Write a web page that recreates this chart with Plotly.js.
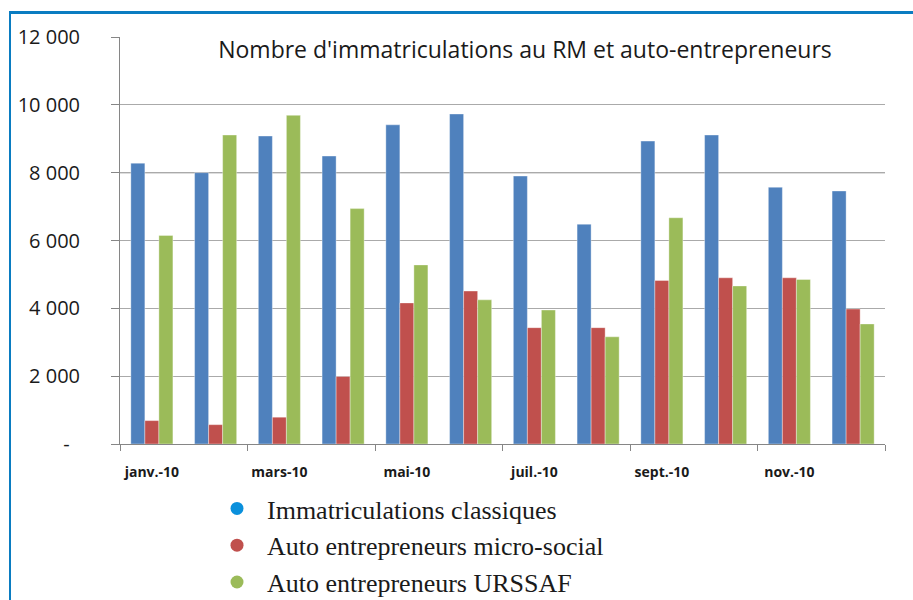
<!DOCTYPE html>
<html>
<head>
<meta charset="utf-8">
<script src="https://cdn.plot.ly/plotly-3.0.1.min.js"></script>
<style>
  html, body { margin: 0; padding: 0; background: #fff; }
  #frame { position: absolute; left: 9px; top: 11px; width: 904px; height: 589px;
           border-left: 2px solid #0a7cc1; border-top: 3px solid #0a7cc1; box-sizing: border-box; pointer-events: none; z-index: 5; }
  #chart { position: absolute; left: 0; top: 0; width: 913px; height: 600px; }
</style>
</head>
<body>
<div id="chart"></div>
<div id="frame"></div>
<script>
const months = ['janv.-10','févr.-10','mars-10','avr.-10','mai-10','juin-10','juil.-10','août-10','sept.-10','oct.-10','nov.-10','déc.-10'];
const classiques = [8280, 8000, 9080, 8490, 9410, 9730, 7900, 6480, 8930, 9110, 7570, 7460];
const microSocial = [690, 570, 790, 1990, 4160, 4510, 3430, 3430, 4820, 4900, 4900, 3980];
const urssaf = [6150, 9110, 9690, 6940, 5280, 4250, 3950, 3160, 6670, 4660, 4850, 3540];
const seriesNames = ['Immatriculations classiques', 'Auto entrepreneurs micro-social', 'Auto entrepreneurs URSSAF'];
const yTickVals = [0, 2000, 4000, 6000, 8000, 10000, 12000];
const yTickText = ['-\u00a0\u00a0', '2 000', '4 000', '6 000', '8 000', '10 000', '12 000'];
const emphasizedGrid = 8000;
const chartTitle = "Nombre d'immatriculations au RM et auto-entrepreneurs";

const barColors = ['#4f81bd', '#c0504d', '#9bbb59'];
const legendColors = ['#0a90dc', '#c0504d', '#9bbb59'];
const seriesValues = [classiques, microSocial, urssaf];

const traces = [];
seriesValues.forEach((vals, i) => {
  traces.push({
    type: 'bar', x: months, y: vals, name: seriesNames[i],
    marker: { color: barColors[i], line: { color: 'rgba(255,255,255,0.6)', width: 0.6 } },
    showlegend: false, hoverinfo: 'x+y'
  });
});
seriesValues.forEach((vals, i) => {
  traces.push({
    type: 'scatter', mode: 'markers', x: [null], y: [null], name: seriesNames[i],
    marker: { color: legendColors[i], size: 13, symbol: 'circle' },
    legendgroup: 'g' + i, showlegend: true
  });
});

const layout = {
  width: 913, height: 600,
  margin: { l: 120, r: 28, t: 37, b: 156, autoexpand: false },
  paper_bgcolor: '#ffffff', plot_bgcolor: '#ffffff',
  barmode: 'group', bargap: 0.34, bargroupgap: 0,
  title: {
    text: chartTitle,
    font: { family: 'Open Sans, sans-serif', size: 23, color: '#1a1a1a' },
    x: 525 / 913, xanchor: 'center', xref: 'container',
    y: 1 - 50 / 600, yanchor: 'middle', yref: 'container'
  },
  xaxis: {
    type: 'category', tickmode: 'linear', tick0: 0, dtick: 2,
    tickson: 'boundaries', ticks: 'outside', ticklen: 6, tickcolor: '#868686',
    showline: true, linecolor: '#868686', linewidth: 1,
    showgrid: false, zeroline: false, tickangle: 0,
    ticklabelstandoff: 15,
    tickfont: { family: 'Open Sans, sans-serif', size: 14, color: '#1a1a1a', weight: 'bold' },
    fixedrange: true
  },
  yaxis: {
    range: [0, 12000], tickmode: 'array', tickvals: yTickVals, ticktext: yTickText,
    ticks: 'outside', ticklen: 8, tickcolor: '#868686',
    showline: true, linecolor: '#868686', linewidth: 1,
    showgrid: true, gridcolor: '#aaaaaa', gridwidth: 1, zeroline: false,
    ticklabelstandoff: 27,
    tickfont: { family: 'Open Sans, sans-serif', size: 20, color: '#1a1a1a' },
    fixedrange: true
  },
  shapes: [{
    type: 'line', xref: 'paper', x0: 0, x1: 1, yref: 'y', y0: emphasizedGrid, y1: emphasizedGrid,
    line: { color: '#7a7a7a', width: 1.3 }, layer: 'below'
  }],
  showlegend: true,
  legend: {
    x: 207 / 913, xref: 'container', xanchor: 'left',
    y: 1 - 485 / 600, yref: 'container', yanchor: 'top',
    itemwidth: 50, tracegroupgap: 0,
    font: { family: 'Liberation Serif, Times New Roman, serif', size: 26, color: '#1a1a1a' },
    bgcolor: 'rgba(0,0,0,0)', borderwidth: 0
  }
};

Plotly.newPlot('chart', traces, layout, { displayModeBar: false, staticPlot: true });
</script>
</body>
</html>
